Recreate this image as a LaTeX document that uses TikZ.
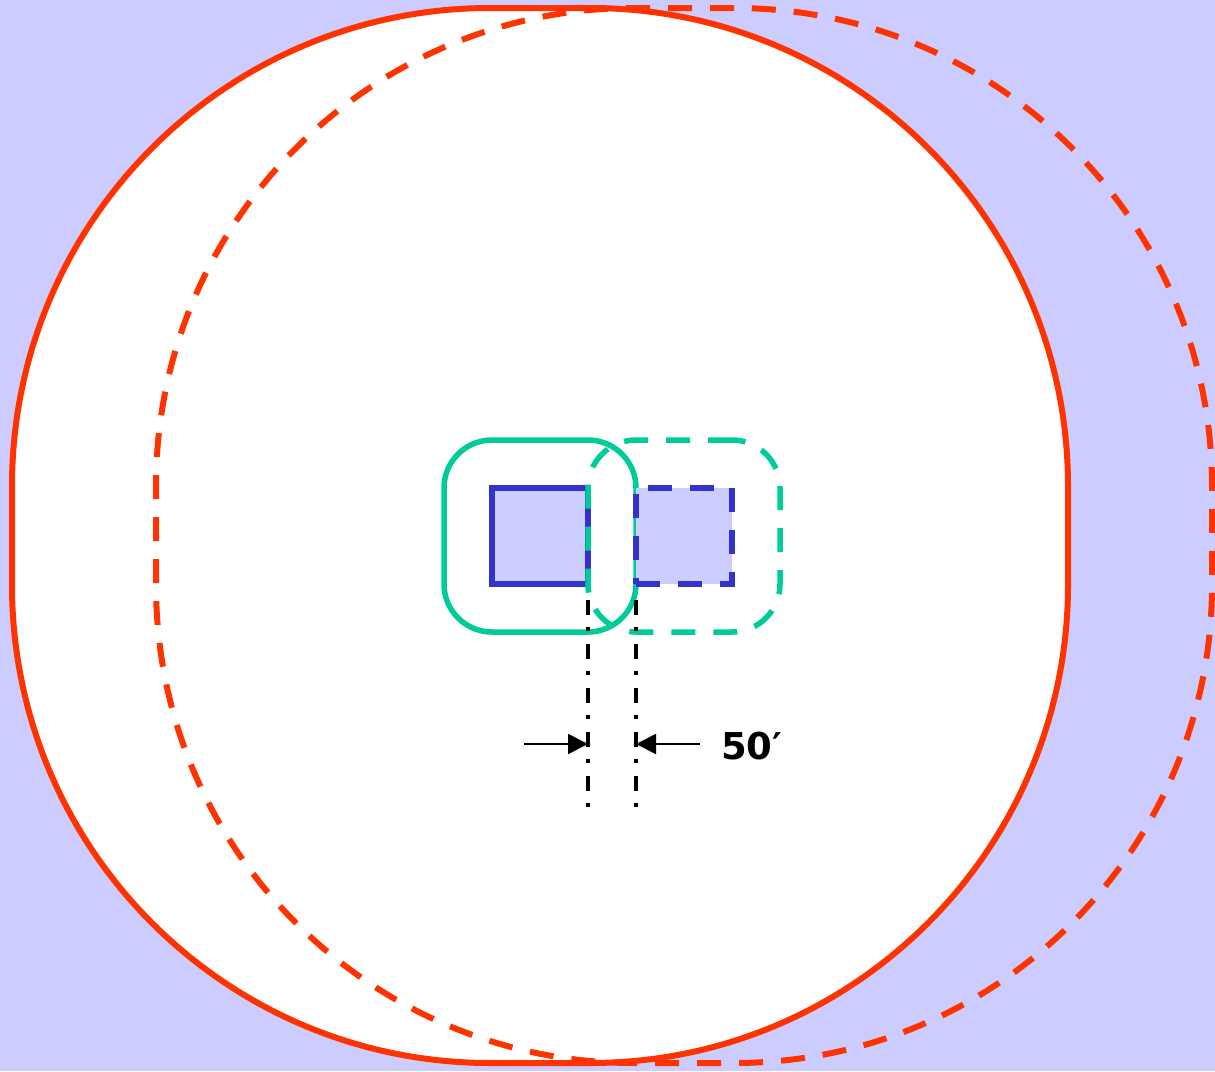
\documentclass[tikz,border=0pt]{standalone}
\usepackage{fontspec}
\setsansfont{DejaVu Sans}
\usetikzlibrary{arrows.meta,positioning}
\definecolor{skyfill}{HTML}{CCCCFF}
\definecolor{rangered}{HTML}{FF3300}
\definecolor{padgreen}{HTML}{00CC99}
\definecolor{unitblue}{HTML}{3333CC}

\begin{document}
\begin{tikzpicture}[x=1pt,y=-1pt,
 reach/.style={draw=rangered,line width=6pt,rounded corners=478pt,
   minimum width=1056pt,minimum height=1055pt,inner sep=0pt,outer sep=0pt},
 pad/.style={draw=padgreen,line width=5.5pt,rounded corners=48pt,
   minimum size=192pt,inner sep=0pt,outer sep=0pt},
 unit/.style={draw=unitblue,fill=skyfill,line width=5.5pt,
   minimum size=96pt,inner sep=0pt,outer sep=0pt},
 moved/.style={dash pattern=on 24pt off 18pt},
 ext/.style={line width=3.5pt,dash pattern=on 15pt off 12pt on 4pt off 13pt},
 dim/.style={-{Triangle[length=20pt,width=20pt]},line width=2pt}]
 \useasboundingbox (0,0) rectangle (1215,1071);
 \fill[skyfill] (0,0) rectangle (1215,1071);
 \node[reach,fill=white] (oldreach) at (540,535.5) {};
 \node[reach,moved] (newreach) at (684,535.5) {};
 \node[unit] (oldunit) at (540,536) {};
 \node[pad] (oldpad) at (540,536) {};
 \node[pad,moved] (newpad) at (684,536) {};
 \node[unit,moved] (newunit) at (684,536) {};
 \coordinate (leftfoot) at (588,809);
 \coordinate (rightfoot) at (636,809);
 \draw[ext] ([yshift=-16pt]oldunit.south east) -- (leftfoot);
 \draw[ext] ([yshift=-16pt]newunit.south west) -- (rightfoot);
 \coordinate (lefttail) at (524,744);
 \coordinate (lefttip) at (588,744);
 \coordinate (righttail) at (700,744);
 \coordinate (righttip) at (636,744);
 \draw[dim] (lefttail) -- (lefttip);
 \draw[dim] (righttail) -- (righttip);
 \node[font=\sffamily\bfseries\fontsize{37}{40}\selectfont,inner sep=0pt,
   right=21pt of righttail,yshift=-2pt] (gap) {50′};
\end{tikzpicture}
\end{document}
